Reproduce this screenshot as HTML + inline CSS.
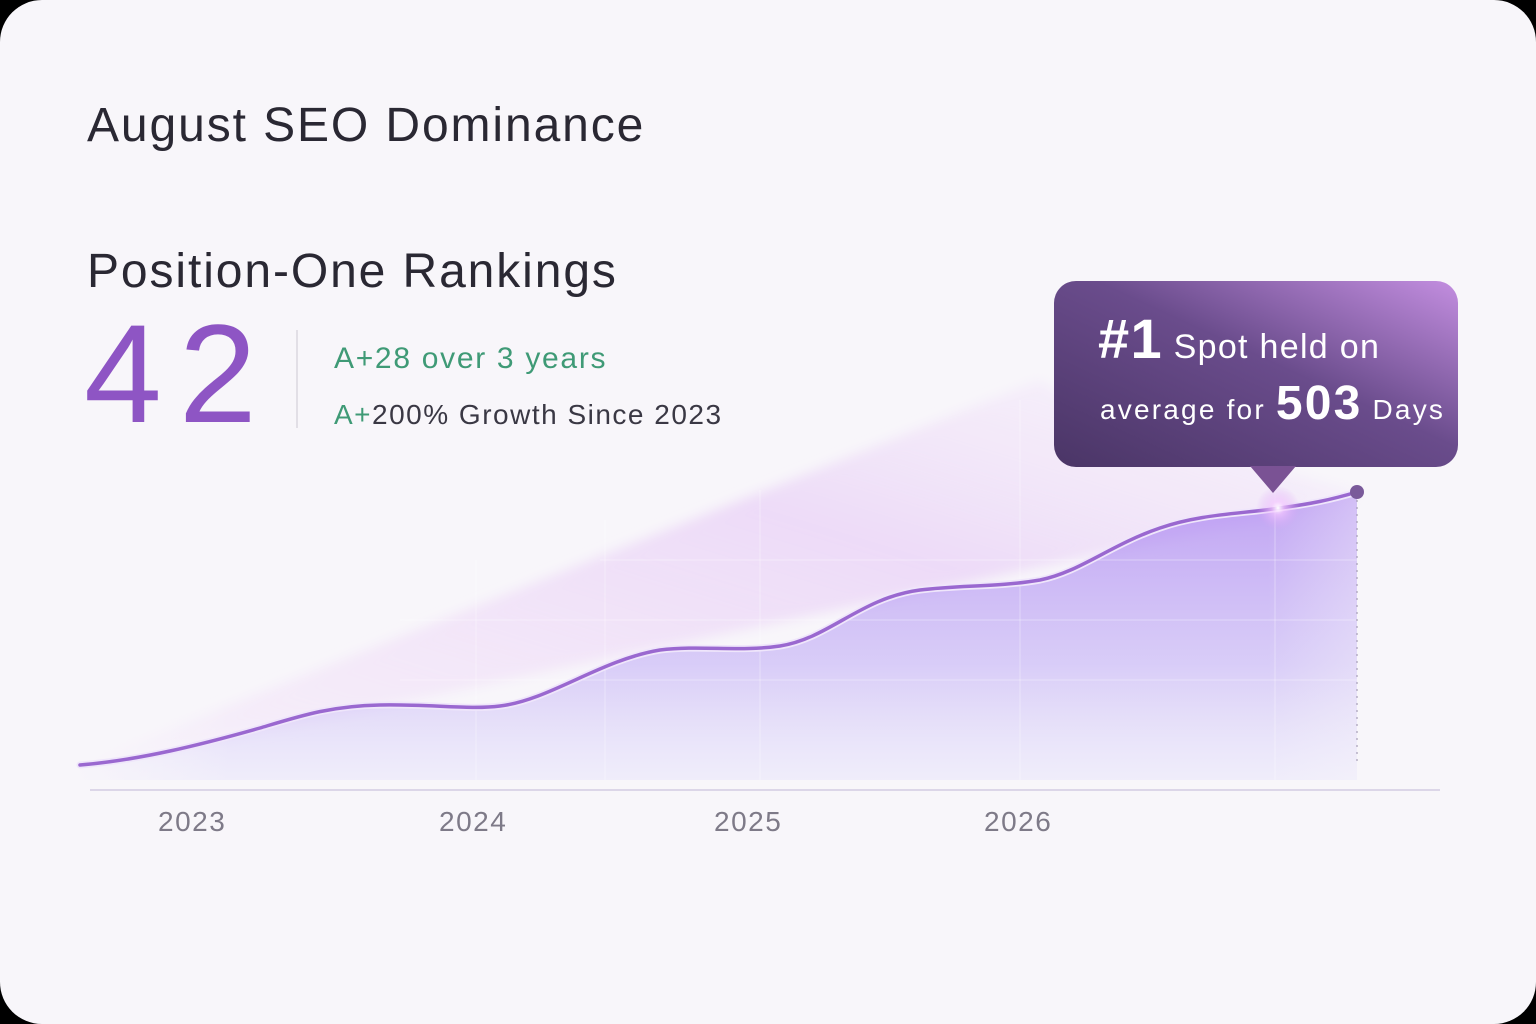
<!DOCTYPE html>
<html><head><meta charset="utf-8"><style>
html,body{margin:0;padding:0;background:#000;}
.card{position:absolute;left:0;top:0;width:1536px;height:1024px;border-radius:42px;background:#f8f6fa;overflow:hidden;font-family:"Liberation Sans",sans-serif;}
.t{position:absolute;white-space:nowrap;}
</style></head><body>
<div class="card">
<svg width="1536" height="1024" style="position:absolute;left:0;top:0">
<defs>
<linearGradient id="fill" x1="0" y1="0" x2="0" y2="1">
<stop offset="0" stop-color="#a77ef0" stop-opacity="0.7"/>
<stop offset="0.6" stop-color="#b9a3f5" stop-opacity="0.5"/>
<stop offset="1" stop-color="#dcd8fb" stop-opacity="0.3"/>
</linearGradient>
<linearGradient id="wedge" x1="0" y1="1" x2="1" y2="0">
<stop offset="0" stop-color="#f0d8f8" stop-opacity="0.2"/>
<stop offset="0.6" stop-color="#e6c9f6" stop-opacity="0.6"/>
<stop offset="1" stop-color="#f2e6fa" stop-opacity="0.2"/>
</linearGradient>
<linearGradient id="fade" x1="0" y1="0" x2="1" y2="0">
<stop offset="0" stop-color="#f8f6fa" stop-opacity="1"/>
<stop offset="0.12" stop-color="#f8f6fa" stop-opacity="0"/>
<stop offset="0.85" stop-color="#f8f6fa" stop-opacity="0"/>
<stop offset="1" stop-color="#f8f6fa" stop-opacity="0.8"/>
</linearGradient>
<linearGradient id="tip" x1="0" y1="1" x2="1" y2="0">
<stop offset="0" stop-color="#4a3566"/>
<stop offset="0.55" stop-color="#6a4c8c"/>
<stop offset="1" stop-color="#c38ee0"/>
</linearGradient>
<radialGradient id="glow"><stop offset="0" stop-color="#fff" stop-opacity="1"/><stop offset="0.3" stop-color="#f3c6ff" stop-opacity="0.7"/><stop offset="1" stop-color="#d9a6f5" stop-opacity="0"/></radialGradient>
<filter id="blur"><feGaussianBlur stdDeviation="6"/></filter>
</defs>
<path d="M80,765 L1040,380 L1100,420 L1357,492 L1357,500 L80,770Z" fill="url(#wedge)" filter="url(#blur)"/>
<path d="M80,765 C140,760 200,745 260,728 C300,716 330,706 380,705 C430,704 470,710 500,706 C550,700 600,660 660,650 C700,645 740,652 780,646 C830,638 860,598 920,590 C960,585 1000,587 1040,580 C1080,572 1110,545 1160,528 C1200,514 1240,514 1280,508 C1310,504 1330,500 1357,492 L1357,780 L80,780Z" fill="url(#fill)"/>
<rect x="60" y="360" width="1420" height="440" fill="url(#fade)"/>
<g stroke="#ffffff" stroke-opacity="0.35" stroke-width="1">
<line x1="476" y1="560" x2="476" y2="780"/><line x1="605" y1="520" x2="605" y2="780"/>
<line x1="760" y1="490" x2="760" y2="780"/><line x1="1020" y1="400" x2="1020" y2="780"/>
<line x1="1275" y1="490" x2="1275" y2="780"/>
<line x1="400" y1="680" x2="1357" y2="680"/><line x1="400" y1="620" x2="1357" y2="620"/><line x1="600" y1="560" x2="1357" y2="560"/>
</g>
<line x1="1357" y1="500" x2="1357" y2="765" stroke="#a8a0b8" stroke-dasharray="2 5" stroke-width="1.2"/>
<line x1="90" y1="790" x2="1440" y2="790" stroke="#dcd6e8" stroke-width="2"/>
<path d="M80,765 C140,760 200,745 260,728 C300,716 330,706 380,705 C430,704 470,710 500,706 C550,700 600,660 660,650 C700,645 740,652 780,646 C830,638 860,598 920,590 C960,585 1000,587 1040,580 C1080,572 1110,545 1160,528 C1200,514 1240,514 1280,508 C1310,504 1330,500 1357,492" fill="none" stroke="#efe6fb" stroke-width="7" stroke-linecap="round"/>
<path d="M80,765 C140,760 200,745 260,728 C300,716 330,706 380,705 C430,704 470,710 500,706 C550,700 600,660 660,650 C700,645 740,652 780,646 C830,638 860,598 920,590 C960,585 1000,587 1040,580 C1080,572 1110,545 1160,528 C1200,514 1240,514 1280,508 C1310,504 1330,500 1357,492" fill="none" stroke="#9a68d0" stroke-width="3.5" stroke-linecap="round"/>
<circle cx="1357" cy="492" r="7" fill="#7a5a9a"/>
<circle cx="1278" cy="508" r="22" fill="url(#glow)"/>
<rect x="1054" y="281" width="404" height="186" rx="22" fill="url(#tip)"/>
<path d="M1250,466 L1296,466 L1273,493Z" fill="#7a5294"/>
<line x1="297" y1="330" x2="297" y2="428" stroke="#e2dfe6" stroke-width="2"/>
</svg>
<div class="t" style="left:87px;top:98px;font-size:48px;color:#2a2833;letter-spacing:1.9px;">August SEO Dominance</div>
<div class="t" style="left:87px;top:244px;font-size:48px;color:#2a2833;letter-spacing:1.9px;">Position-One Rankings</div>
<div class="t" style="left:84px;top:304px;font-size:140px;color:#8e55c4;line-height:1;letter-spacing:17px;">42</div>
<div class="t" style="left:334px;top:342px;font-size:30px;color:#3f9a76;letter-spacing:1.7px;">A+28 over 3 years</div>
<div class="t" style="left:334px;top:399px;font-size:28px;color:#3a3844;letter-spacing:1.5px;"><span style="color:#3f9a76">A+</span>200% Growth Since 2023</div>
<div class="t" style="left:1098px;top:306px;font-size:34px;color:#fff;letter-spacing:1.3px;"><b style="font-size:56px;">#1</b> Spot held on</div>
<div class="t" style="left:1100px;top:376px;font-size:28px;color:#fff;letter-spacing:2.2px;">average for <b style="font-size:48px;">503</b> Days</div>
<div class="t" style="left:158px;top:806px;font-size:28px;color:#7e7a88;letter-spacing:1.5px;">2023</div>
<div class="t" style="left:439px;top:806px;font-size:28px;color:#7e7a88;letter-spacing:1.5px;">2024</div>
<div class="t" style="left:714px;top:806px;font-size:28px;color:#7e7a88;letter-spacing:1.5px;">2025</div>
<div class="t" style="left:984px;top:806px;font-size:28px;color:#7e7a88;letter-spacing:1.5px;">2026</div>
</div>
</body></html>
